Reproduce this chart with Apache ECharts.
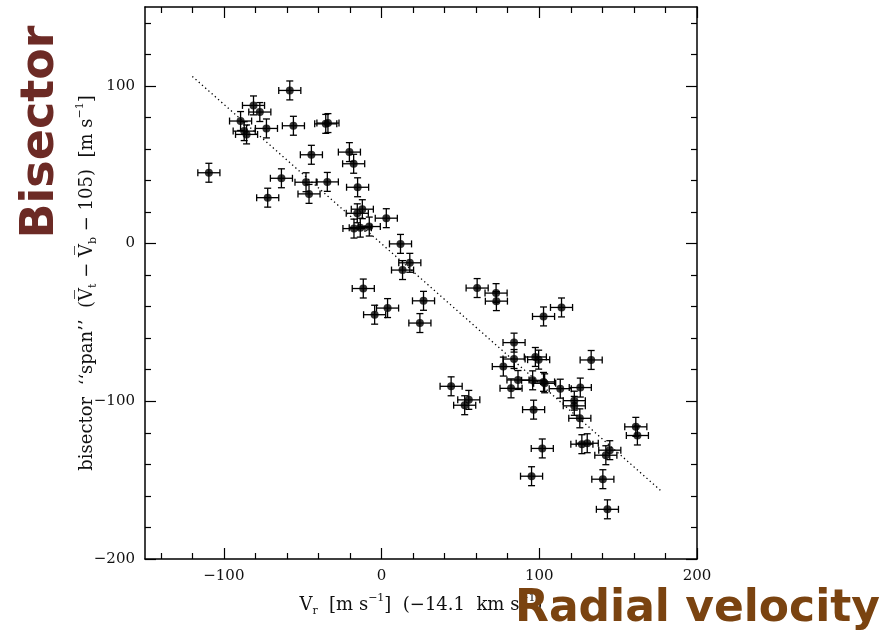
<!DOCTYPE html>
<html>
<head>
<meta charset="utf-8">
<script src="https://cdn.jsdelivr.net/npm/echarts@6/dist/echarts.min.js"></script>
<style>html,body{margin:0;padding:0;background:#fff;}#c{width:895px;height:634px;}</style>
</head>
<body>
<div id="c"></div>
<script>
// ---- data ----
const velocity = [-58.2,-81.2,-77.2,-89.4,-55.9,-35.4,-34.0,-73.0,-87.1,-85.6,-44.5,-20.4,-17.7,-109.5,-63.5,-47.9,-34.4,-15.2,-46.0,-72.2,-12.2,-15.4,3.0,-17.5,-13.5,-7.8,12.0,17.9,13.3,-11.6,3.8,-4.4,24.3,26.6,60.6,72.6,72.8,114.1,102.7,84.0,84.0,97.5,99.6,132.9,77.2,86.5,95.8,102.7,103.4,82.1,113.3,126.0,44.1,55.3,52.7,122.2,122.2,96.4,125.7,161.2,162.2,127.0,130.4,101.9,144.7,142.2,95.1,140.3,143.2];
const bisector = [97.1,87.6,83.4,77.7,74.7,75.9,76.4,73.0,71.3,69.2,56.3,58.0,50.6,44.9,41.4,38.9,39.1,35.7,31.5,29.1,21.8,19.2,16.1,9.5,10.1,10.8,-0.2,-12.2,-16.8,-28.5,-40.9,-45.1,-50.4,-36.3,-28.2,-31.4,-36.5,-40.5,-46.2,-62.8,-73.2,-71.9,-73.6,-73.8,-78.0,-86.5,-86.7,-87.7,-88.6,-91.8,-92.0,-91.3,-90.5,-99.1,-102.5,-99.6,-102.9,-105.3,-110.8,-116.2,-121.7,-127.2,-126.6,-129.9,-131.0,-134.2,-147.5,-149.4,-168.5];
const velocityErr = 7;
const bisectorErr = 6;
const fitX = [-120, 178];
const fitY = [106, -157.5];
const xLabels = [-100, 0, 100, 200];
const yLabels = [-200, -100, 0, 100];
const xMajorTicks = [-100, 0, 100, 200];
const xMinorTicks = [-140,-120,-80,-60,-40,-20,20,40,60,80,120,140,160,180];
const yMajorTicks = [-200, -100, 0, 100];
const yMinorTicks = [-180,-160,-140,-120,-80,-60,-40,-20,20,40,60,80,120,140];

const pts = velocity.map((v, i) => [v, bisector[i]]);
const fitLine = fitX.map((v, i) => [v, fitY[i]]);

const serif = "'DejaVu Serif', serif";
const fmt = v => (v < 0 ? '\u2212' + (-v) : String(v));
const line = { show: true, onZero: false, lineStyle: { color: '#000', width: 1.5 } };

function mkAxis(base, pos, ticks, len, showLine, labels, extra) {
  return Object.assign({
    type: 'value', min: base[0], max: base[1], position: pos,
    splitLine: { show: false },
    axisLine: showLine ? line : { show: false, onZero: false },
    axisTick: { show: true, inside: true, length: len, customValues: ticks, lineStyle: { color: '#000', width: 1.2 } },
    axisLabel: labels ? { show: true, customValues: labels, formatter: fmt, fontFamily: serif, fontSize: 15, color: '#111', margin: 10 } : { show: false }
  }, extra || {});
}
const nameRich = {
  n: { fontFamily: serif, fontSize: 18, color: '#111', lineHeight: 24 },
  sub: { fontFamily: serif, fontSize: 11, color: '#111', verticalAlign: 'bottom' },
  sup: { fontFamily: serif, fontSize: 11, color: '#111', verticalAlign: 'top' }
};

const chart = echarts.init(document.getElementById('c'), null, { renderer: 'canvas' });
chart.setOption({
  animation: false,
  backgroundColor: '#fff',
  grid: { left: 145, right: 198, top: 7, bottom: 75, containLabel: false },
  xAxis: [
    mkAxis([-150, 200], 'bottom', xMajorTicks, 11, true, xLabels, {
      name: '{n|V}{sub|r}{n|  [m s}{sup|\u22121}{n|]  (\u221214.1  km s}{sup|\u22121}{n|)}',
      nameLocation: 'middle', nameGap: 34, nameMoveOverlap: false,
      nameTextStyle: { rich: nameRich }
    }),
    mkAxis([-150, 200], 'bottom', xMinorTicks, 6, false, null),
    mkAxis([-150, 200], 'top', xMajorTicks, 11, true, null),
    mkAxis([-150, 200], 'top', xMinorTicks, 6, false, null)
  ],
  yAxis: [
    mkAxis([-200, 150], 'left', yMajorTicks, 11, true, yLabels, {
      name: '{n|bisector  \u2018\u2018span\u2019\u2019  (V\u0305}{sub|t}{n| \u2212 V\u0305}{sub|b}{n| \u2212 105)  [m s}{sup|\u22121}{n|]}',
      nameLocation: 'middle', nameGap: 46, nameMoveOverlap: false,
      nameTextStyle: { rich: nameRich }
    }),
    mkAxis([-200, 150], 'left', yMinorTicks, 6, false, null),
    mkAxis([-200, 150], 'right', yMajorTicks, 11, true, null),
    mkAxis([-200, 150], 'right', yMinorTicks, 6, false, null)
  ],
  series: [
    {
      type: 'line', data: fitLine, xAxisIndex: 0, yAxisIndex: 0,
      symbol: 'none', silent: true,
      lineStyle: { color: '#000', width: 1.3, type: [1.3, 3] }
    },
    {
      type: 'custom', data: pts, xAxisIndex: 0, yAxisIndex: 0, silent: true,
      renderItem(params, api) {
        const x = api.value(0), y = api.value(1);
        const l = api.coord([x - velocityErr, y]), r = api.coord([x + velocityErr, y]);
        const t = api.coord([x, y + bisectorErr]), b = api.coord([x, y - bisectorErr]);
        const cap = 3.5;
        const st = { stroke: '#000', lineWidth: 1.3 };
        const seg = (x1, y1, x2, y2) => ({ type: 'line', shape: { x1, y1, x2, y2 }, style: st });
        return {
          type: 'group', children: [
            seg(l[0], l[1], r[0], r[1]),
            seg(l[0], l[1] - cap, l[0], l[1] + cap),
            seg(r[0], r[1] - cap, r[0], r[1] + cap),
            seg(t[0], t[1], b[0], b[1]),
            seg(t[0] - cap, t[1], t[0] + cap, t[1]),
            seg(b[0] - cap, b[1], b[0] + cap, b[1])
          ]
        };
      }
    },
    {
      type: 'scatter', data: pts, xAxisIndex: 0, yAxisIndex: 0,
      symbol: 'circle', symbolSize: 8, itemStyle: { color: '#000' }, silent: true
    }
  ],
  graphic: [
    { type: 'text', x: 41, y: 132, rotation: Math.PI / 2, z: 100,
      style: { text: 'Bisector', font: "bold 46px 'DejaVu Sans'", fill: '#6c2a25', align: 'center', verticalAlign: 'middle' } },
    { type: 'text', x: 515, y: 610, z: 100,
      style: { text: 'Radial velocity', font: "bold 44px 'DejaVu Sans'", fill: '#7a4310', align: 'left', verticalAlign: 'middle' } }
  ]
});
</script>
</body>
</html>
